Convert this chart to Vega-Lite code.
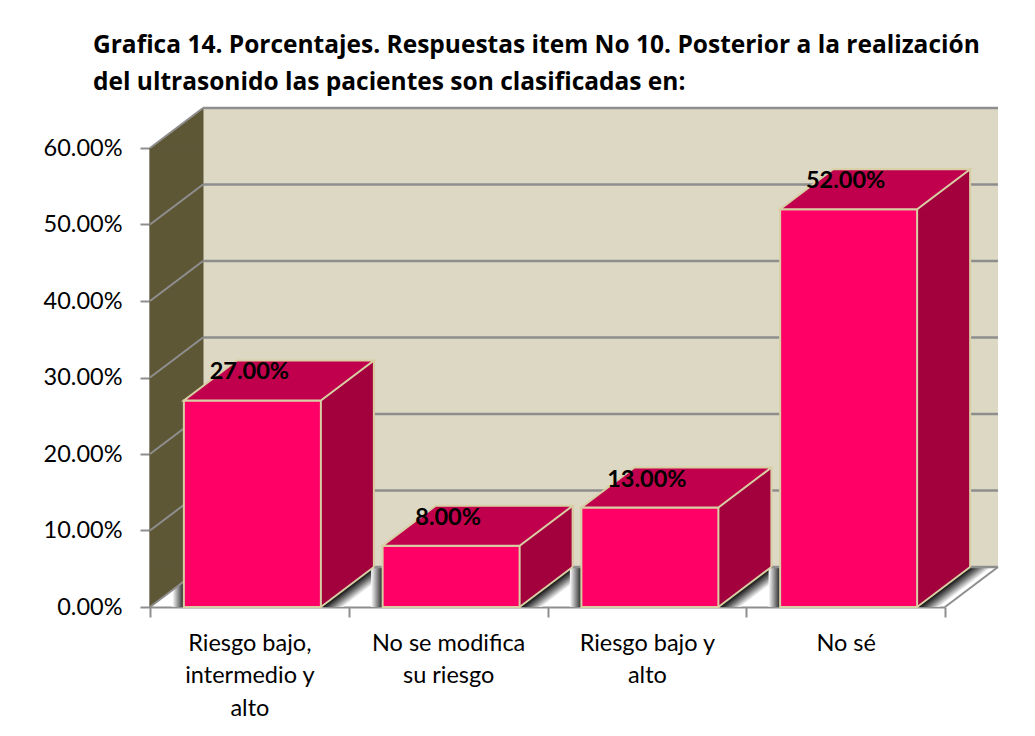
{
  "$schema": "https://vega.github.io/schema/vega-lite/v6.json",
  "width": 795,
  "height": 459,
  "autosize": {"type": "none"},
  "padding": {"left": 150, "top": 148, "right": 90, "bottom": 129},
  "background": "white",
  "title": {
    "text": ["Grafica 14. Porcentajes. Respuestas item No 10. Posterior a la realización", "del ultrasonido las pacientes son clasificadas en:"],
    "anchor": "start",
    "frame": "group",
    "font": "Open Sans",
    "fontSize": 24.5,
    "fontWeight": "bold",
    "color": "#000000",
    "lineHeight": 37,
    "dx": -57,
    "offset": 11
  },
  "config": {
    "view": {"stroke": null},
    "font": "Lato",
    "axis": {"grid": false}
  },
  "datasets": {
    "respuestas": [
      {"categoria": "Riesgo bajo, intermedio y alto", "porcentaje": 0.27},
      {"categoria": "No se modifica su riesgo", "porcentaje": 0.08},
      {"categoria": "Riesgo bajo y alto", "porcentaje": 0.13},
      {"categoria": "No sé", "porcentaje": 0.52}
    ],
    "marcas": [
      {"t": 0}, {"t": 0.1}, {"t": 0.2}, {"t": 0.3}, {"t": 0.4}, {"t": 0.5}, {"t": 0.6}
    ],
    "panel": [{"parte": "pared"}]
  },
  "layer": [
    {
      "data": {"name": "respuestas"},
      "mark": {"type": "bar", "width": 137, "xOffset": 3, "fill": "#FF0066", "stroke": "#D8CFA4", "strokeWidth": 2, "opacity": 0},
      "encoding": {
        "x": {
          "field": "categoria",
          "type": "nominal",
          "sort": null,
          "title": null,
          "scale": {"domain": ["Riesgo bajo, intermedio y alto", "No se modifica su riesgo", "Riesgo bajo y alto", "No sé"], "paddingInner": 0, "paddingOuter": 0},
          "axis": {
            "labelAngle": 0,
            "labelFont": "Lato",
            "labelFontSize": 23.5,
            "labelColor": "#000000",
            "labelLineHeight": 32.5,
            "labelPadding": 14,
            "labelLimit": 300,
            "labelExpr": "datum.value == 'Riesgo bajo, intermedio y alto' ? ['Riesgo bajo,', 'intermedio y', 'alto'] : datum.value == 'No se modifica su riesgo' ? ['No se modifica', 'su riesgo'] : datum.value == 'Riesgo bajo y alto' ? ['Riesgo bajo y', 'alto'] : datum.value",
            "tickBand": "extent",
            "tickSize": 10,
            "tickWidth": 2,
            "tickColor": "#8E8E8E",
            "domainColor": "#8E8E8E",
            "domainWidth": 2
          }
        },
        "y": {
          "field": "porcentaje",
          "type": "quantitative",
          "title": null,
          "scale": {"domain": [0, 0.6], "nice": false, "zero": true},
          "axis": {
            "values": [0, 0.1, 0.2, 0.3, 0.4, 0.5, 0.6],
            "format": ".2%",
            "labelFont": "Lato",
            "labelFontSize": 23.5,
            "labelColor": "#000000",
            "labelPadding": 18,
            "tickSize": 10,
            "tickWidth": 2,
            "tickColor": "#8E8E8E",
            "domainColor": "#8E8E8E",
            "domainWidth": 2
          }
        },
        "y2": {"datum": 0}
      }
    },
    {
      "data": {"name": "panel"},
      "mark": {"type": "rect", "fill": "#DDD8C3", "xOffset": 53, "x2Offset": 53, "yOffset": -40, "y2Offset": -40},
      "encoding": {
        "x": {"value": 0},
        "x2": {"value": "width"},
        "y": {"datum": 0.6, "type": "quantitative", "title": null},
        "y2": {"datum": 0}
      }
    },
    {
      "data": {"name": "respuestas"},
      "mark": {"type": "point", "shape": "M68.5,0 L121.5,-40 L143.5,-40 L90.5,0 Z", "size": 4, "filled": true, "opacity": 1, "xOffset": 3,
        "fill": {"gradient": "linear", "x1": 0, "y1": 1, "x2": 0.2, "y2": 1.14, "stops": [{"offset": 0, "color": "#000000"}, {"offset": 0.5, "color": "#777777"}, {"offset": 1, "color": "#ffffff"}]}},
      "encoding": {
        "x": {"field": "categoria", "type": "nominal", "sort": null, "title": null},
        "y": {"datum": 0, "type": "quantitative", "title": null}
      }
    },
    {
      "data": {"name": "respuestas"},
      "mark": {"type": "point", "shape": "M-80,0 L-68.5,0 L-68.5,-40 L-80,-40 Z", "size": 4, "filled": true, "opacity": 1, "xOffset": 3,
        "fill": {"gradient": "linear", "x1": 0, "y1": 0, "x2": 1, "y2": 0, "stops": [{"offset": 0, "color": "#ffffff"}, {"offset": 1, "color": "#222222"}]}},
      "encoding": {
        "x": {"field": "categoria", "type": "nominal", "sort": null, "title": null},
        "y": {"datum": 0, "type": "quantitative", "title": null}
      }
    },
    {
      "data": {"name": "panel"},
      "mark": {"type": "rect", "fill": "#5E5736", "stroke": "#5E5736", "strokeWidth": 1, "x2Offset": 53, "y2Offset": -40},
      "encoding": {
        "x": {"value": 0},
        "x2": {"value": 0},
        "y": {"datum": 0.6, "type": "quantitative", "title": null},
        "y2": {"datum": 0}
      }
    },
    {
      "data": {"name": "panel"},
      "mark": {"type": "point", "shape": "M0,0 L53,-40 L53,0 Z", "size": 4, "filled": true, "opacity": 1, "fill": "#5E5736", "stroke": "#5E5736", "strokeWidth": 1},
      "encoding": {
        "x": {"value": 0},
        "y": {"datum": 0.6, "type": "quantitative", "title": null}
      }
    },
    {
      "data": {"name": "panel"},
      "mark": {"type": "point", "shape": "M0,-40 L0,0 L53,-40 Z", "size": 4, "filled": true, "opacity": 1, "fill": "#5E5736", "stroke": "#5E5736", "strokeWidth": 1},
      "encoding": {
        "x": {"value": 0},
        "y": {"datum": 0, "type": "quantitative", "title": null}
      }
    },
    {
      "data": {"name": "marcas"},
      "mark": {"type": "rule", "color": "#8E8E8E", "strokeWidth": 2.5, "xOffset": 53, "x2Offset": 53, "yOffset": -40},
      "encoding": {
        "x": {"value": 0},
        "x2": {"value": "width"},
        "y": {"field": "t", "type": "quantitative", "title": null}
      }
    },
    {
      "data": {"name": "marcas"},
      "mark": {"type": "rule", "color": "#8E8E8E", "strokeWidth": 2, "x2Offset": 53, "y2Offset": -40},
      "encoding": {
        "x": {"value": 0},
        "x2": {"value": 0},
        "y": {"field": "t", "type": "quantitative", "title": null},
        "y2": {"field": "t"}
      }
    },
    {
      "data": {"name": "panel"},
      "mark": {"type": "rule", "color": "#8E8E8E", "strokeWidth": 2, "x2Offset": 53, "y2Offset": -40},
      "encoding": {
        "x": {"value": "width"},
        "x2": {"value": "width"},
        "y": {"datum": 0, "type": "quantitative", "title": null},
        "y2": {"datum": 0}
      }
    },
    {
      "data": {"name": "respuestas"},
      "mark": {"type": "bar", "width": 53, "xOffset": 98, "y2Offset": -40, "fill": "#A3003E", "stroke": "#A3003E", "strokeWidth": 1},
      "encoding": {
        "x": {"field": "categoria", "type": "nominal", "sort": null, "title": null},
        "y": {"field": "porcentaje", "type": "quantitative", "title": null},
        "y2": {"datum": 0}
      }
    },
    {
      "data": {"name": "respuestas"},
      "mark": {"type": "point", "shape": "M68.5,0 L121.5,-40 L121.5,0 Z", "size": 4, "filled": true, "opacity": 1, "xOffset": 3, "fill": "#A3003E", "stroke": "#A3003E", "strokeWidth": 1},
      "encoding": {
        "x": {"field": "categoria", "type": "nominal", "sort": null, "title": null},
        "y": {"field": "porcentaje", "type": "quantitative", "title": null}
      }
    },
    {
      "data": {"name": "respuestas"},
      "mark": {"type": "point", "shape": "M68.5,0 L68.5,-40 L121.5,-40 Z", "size": 4, "filled": true, "opacity": 1, "xOffset": 3, "fill": "#A3003E", "stroke": "#A3003E", "strokeWidth": 1},
      "encoding": {
        "x": {"field": "categoria", "type": "nominal", "sort": null, "title": null},
        "y": {"datum": 0, "type": "quantitative", "title": null}
      }
    },
    {
      "data": {"name": "respuestas"},
      "mark": {"type": "point", "shape": "M68.5,0 L121.5,-40", "size": 4, "filled": false, "opacity": 1, "xOffset": 3, "stroke": "#D8CFA4", "strokeWidth": 2},
      "encoding": {
        "x": {"field": "categoria", "type": "nominal", "sort": null, "title": null},
        "y": {"datum": 0, "type": "quantitative", "title": null}
      }
    },
    {
      "data": {"name": "respuestas"},
      "mark": {"type": "rule", "xOffset": 124.5, "yOffset": -40, "y2Offset": -40, "color": "#D8CFA4", "strokeWidth": 2},
      "encoding": {
        "x": {"field": "categoria", "type": "nominal", "sort": null, "title": null},
        "y": {"field": "porcentaje", "type": "quantitative", "title": null},
        "y2": {"datum": 0}
      }
    },
    {
      "data": {"name": "respuestas"},
      "mark": {"type": "bar", "width": 137, "xOffset": 3, "fill": "#FF0066", "stroke": "#D8CFA4", "strokeWidth": 2},
      "encoding": {
        "x": {"field": "categoria", "type": "nominal", "sort": null, "title": null},
        "y": {"field": "porcentaje", "type": "quantitative", "title": null},
        "y2": {"datum": 0}
      }
    },
    {
      "data": {"name": "respuestas"},
      "mark": {"type": "point", "shape": "M-68.5,0 L68.5,0 L121.5,-40 L-15.5,-40 Z", "size": 4, "filled": true, "opacity": 1, "xOffset": 3, "fill": "#C0004C", "stroke": "#D8CFA4", "strokeWidth": 2},
      "encoding": {
        "x": {"field": "categoria", "type": "nominal", "sort": null, "title": null},
        "y": {"field": "porcentaje", "type": "quantitative", "title": null}
      }
    },
    {
      "data": {"name": "respuestas"},
      "mark": {"type": "text", "font": "Lato", "fontSize": 23.5, "fontWeight": "bold", "color": "#000000", "align": "center", "baseline": "middle", "dy": -28, "xOffset": 0},
      "encoding": {
        "x": {"field": "categoria", "type": "nominal", "sort": null, "title": null},
        "y": {"field": "porcentaje", "type": "quantitative", "title": null},
        "text": {"field": "porcentaje", "type": "quantitative", "format": ".2%"}
      }
    }
  ]
}
